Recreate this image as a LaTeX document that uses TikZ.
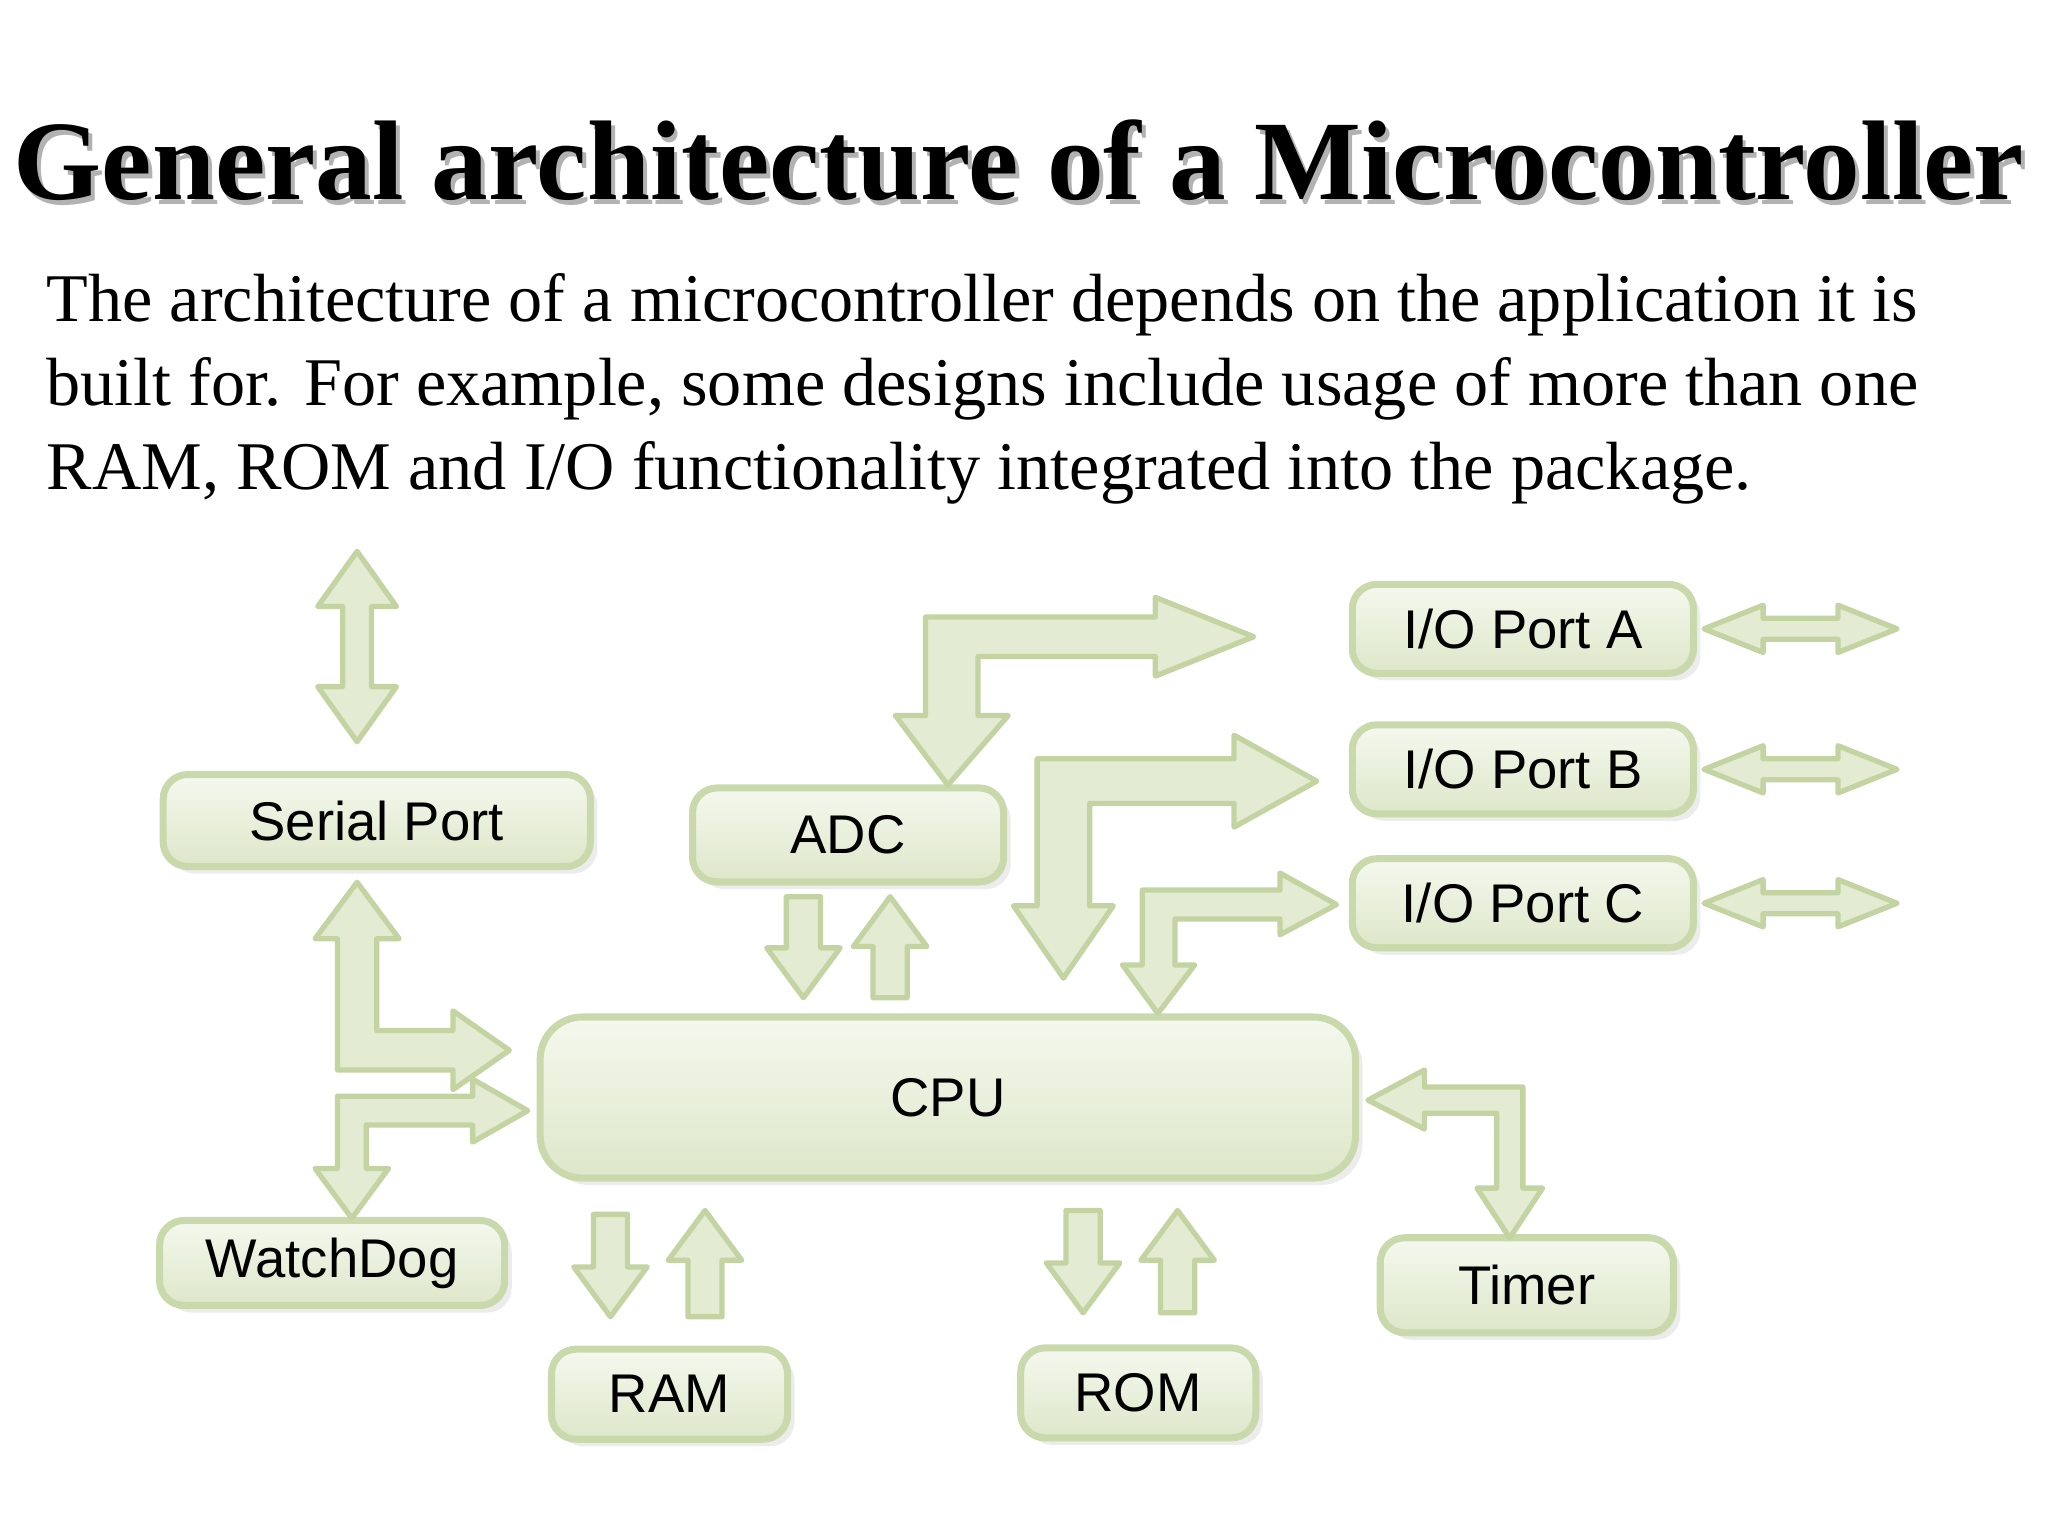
\documentclass[tikz,border=0pt]{standalone}
\usepackage{fontspec}
\setmainfont{Liberation Serif}
\newfontfamily\boxfont{Liberation Sans}
\usetikzlibrary{shadows}
\definecolor{boxtop}{HTML}{F5F8EE}
\definecolor{boxbot}{HTML}{DDE7C9}
\definecolor{boxline}{HTML}{C9D9AC}
\definecolor{arrfill}{HTML}{E3EBD2}
\definecolor{arrline}{HTML}{C3D4A2}
\tikzset{
  blk/.style={rectangle, rounded corners=7pt, draw=boxline, line width=2pt,
    top color=boxtop, bottom color=boxbot, font=\boxfont\fontsize{15.5}{17}\selectfont,
    drop shadow={opacity=0.15, shadow xshift=2pt, shadow yshift=-2pt}},
  fat/.style={fill=arrfill, draw=arrline, line width=1.5pt, line join=round}
}
% straight fat arrows: x centre, start y, tip y
\newcommand{\arrdown}[3]{\filldraw[fat] (#1-13,#2) -- (#1+13,#2) -- (#1+13,#3-38) -- (#1+28,#3-38) -- (#1,#3) -- (#1-28,#3-38) -- (#1-13,#3-38) -- cycle;}
\newcommand{\arrup}[3]{\filldraw[fat] (#1-13,#2) -- (#1+13,#2) -- (#1+13,#3+38) -- (#1+28,#3+38) -- (#1,#3) -- (#1-28,#3+38) -- (#1-13,#3+38) -- cycle;}
% horizontal double arrow: y centre, left x, right x
\newcommand{\arrboth}[3]{\filldraw[fat] (#2,#1) -- (#2+45,#1-18) -- (#2+45,#1-8) -- (#3-45,#1-8) -- (#3-45,#1-18) -- (#3,#1) -- (#3-45,#1+18) -- (#3-45,#1+8) -- (#2+45,#1+8) -- (#2+45,#1+18) -- cycle;}
\begin{document}
\begin{tikzpicture}[x=0.013128cm, y=-0.013128cm]
	\useasboundingbox (0,0) rectangle (1560,1170);
	
	% title and text
	\node (titleshadow) [gray!60, font=\bfseries\fontsize{32.2}{34}\selectfont] at (779,126) {General architecture of a Microcontroller};
	\node (title) [font=\bfseries\fontsize{32.2}{34}\selectfont] at (776,122) {General architecture of a Microcontroller};
	\node (intro) [anchor=north west, align=left, font=\fontsize{19.4}{23.8}\selectfont, inner sep=0pt] at (35,208)
	  {The architecture of a microcontroller depends on the application it is\\
	   built for. For example, some designs include usage of more than one\\
	   RAM, ROM and I/O functionality integrated into the package.};
	
	% blocks
	\node (serial) [blk, minimum width=4.27cm, minimum height=0.92cm] at (287,625) {Serial Port};
	\node (adc) [blk, minimum width=3.11cm, minimum height=0.94cm] at (646,636) {ADC};
	\node (pa) [blk, minimum width=3.41cm, minimum height=0.89cm] at (1160,479) {I/O Port A};
	\node (pb) [blk, minimum width=3.41cm, minimum height=0.89cm] at (1160,586) {I/O Port B};
	\node (pc) [blk, minimum width=3.41cm, minimum height=0.89cm] at (1160,688) {I/O Port C};
	\node (cpu) [blk, rounded corners=12pt, minimum width=8.15cm, minimum height=1.61cm] at (722,836) {CPU};
	\node (wd) [blk, minimum width=3.45cm, minimum height=0.85cm] at (253,962) {WatchDog};
	\node (ram) [blk, minimum width=2.36cm, minimum height=0.9cm] at (510,1062) {RAM};
	\node (rom) [blk, minimum width=2.35cm, minimum height=0.9cm] at (867,1061) {ROM};
	\node (timer) [blk, minimum width=2.93cm, minimum height=0.95cm] at (1163,979) {Timer};
	
	% fat arrows
	\filldraw [fat] (272,420) -- (302,462) -- (283,462) -- (283,523) -- (302,523) -- (272,565) -- (242,523) -- (261,523) -- (261,462) -- (242,462) -- cycle;
	\filldraw [fat] (272,672) -- (304,715) -- (287,715) -- (287,785) -- (345,785) -- (345,770) -- (388,800) -- (345,830) -- (345,815) -- (257,815) -- (257,715) -- (240,715) -- cycle;
	\filldraw [fat] (268,928) -- (296,890) -- (279,890) -- (279,857) -- (360,857) -- (360,870) -- (402,846) -- (360,822) -- (360,835) -- (257,835) -- (257,890) -- (240,890) -- cycle;
	\filldraw [fat] (705,470) -- (880,470) -- (880,455) -- (955,485) -- (880,515) -- (880,500) -- (745,500) -- (745,545) -- (768,545) -- (722,598) -- (682,545) -- (705,545) -- cycle;
	\filldraw [fat] (790,578) -- (940,578) -- (940,560) -- (1003,595) -- (940,630) -- (940,612) -- (830,612) -- (830,690) -- (848,690) -- (810,745) -- (772,690) -- (790,690) -- cycle;
	\filldraw [fat] (870,678) -- (975,678) -- (975,665) -- (1018,689) -- (975,712) -- (975,700) -- (895,700) -- (895,735) -- (910,735) -- (882,772) -- (855,735) -- (870,735) -- cycle;
	\filldraw [fat] (1042,838) -- (1085,815) -- (1085,828) -- (1160,828) -- (1160,905) -- (1175,905) -- (1150,943) -- (1125,905) -- (1140,905) -- (1140,848) -- (1085,848) -- (1085,860) -- cycle;
	
	\arrdown{612}{683}{760}
	\arrup{678}{760}{683}
	\arrdown{465}{925}{1003}
	\arrup{537}{1003}{922}
	\arrdown{825}{922}{1000}
	\arrup{897}{1000}{922}
	
	\foreach \y in {479, 586, 688} {
		\arrboth{\y}{1298}{1445}
	}
\end{tikzpicture}
\end{document}
